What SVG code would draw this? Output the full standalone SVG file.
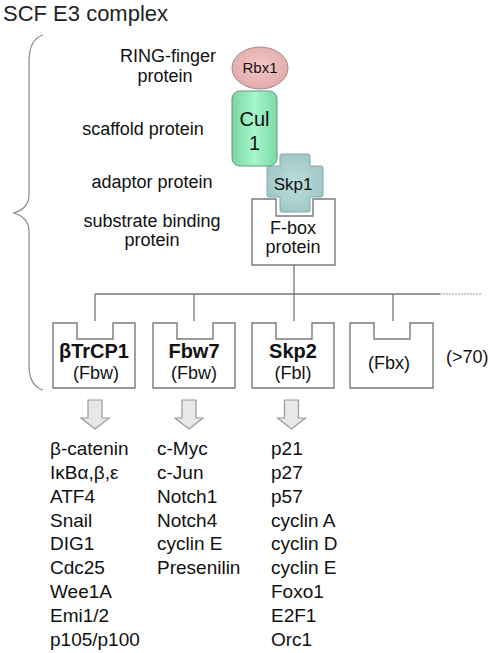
<svg xmlns="http://www.w3.org/2000/svg" width="490" height="653" viewBox="0 0 490 653">
<defs>
<radialGradient id="gRbx" cx="50%" cy="45%" r="60%">
<stop offset="0" stop-color="#f3c9c9"/><stop offset="1" stop-color="#e1a7a7"/>
</radialGradient>
<linearGradient id="gCul" x1="0" y1="0" x2="1" y2="0">
<stop offset="0" stop-color="#78d6a2"/><stop offset="0.5" stop-color="#a6f6cb"/><stop offset="1" stop-color="#7cd9a5"/>
</linearGradient>
<radialGradient id="gSkp" cx="50%" cy="50%" r="60%">
<stop offset="0" stop-color="#bcdcdc"/><stop offset="1" stop-color="#9ec4c4"/>
</radialGradient>
<style>
text{font-family:"Liberation Sans",Arial,sans-serif;fill:#111}
.lbl{font-size:18px;text-anchor:middle}
.big{font-size:18px;text-anchor:middle}
.bx{fill:#fff;stroke:#7a7a7a;stroke-width:1.4}
.nm{font-size:20px;font-weight:bold;text-anchor:middle}
.sub{font-size:18px;text-anchor:middle}
.ln{fill:none;stroke:#777;stroke-width:1.3}
.arr{fill:#e8e8e8;stroke:#9a9a9a;stroke-width:1.2}
.lst{font-size:19px}
</style>
</defs>
<rect width="490" height="653" fill="#fff"/>
<text x="3" y="21" font-size="22" style="fill:#222">SCF E3 complex</text>
<path id="brace" d="M43,35 C33,38 29,48 29,62 L29,195 C29,205 22,211 13,213 C22,215 29,221 29,231 L29,365 C29,378 33,387 43,390" fill="none" stroke="#8a8a8a" stroke-width="1.2"/>
<g id="labels">
<text class="lbl" x="168" y="62">RING-finger</text>
<text class="lbl" x="165" y="82">protein</text>
<text class="lbl" x="143" y="135">scaffold protein</text>
<text class="lbl" x="152" y="188">adaptor protein</text>
<text class="lbl" x="152" y="227">substrate binding</text>
<text class="lbl" x="152" y="246">protein</text>
</g>
<g id="rbx1">
<ellipse cx="260" cy="68" rx="28" ry="21" fill="url(#gRbx)" stroke="#a08c8c" stroke-width="1"/>
<text x="260" y="73" font-size="15" text-anchor="middle">Rbx1</text>
</g>
<g id="cul1">
<rect x="232" y="91" width="45" height="75" rx="8" fill="url(#gCul)" stroke="#5f9c7c" stroke-width="1"/>
<text x="254.5" y="126" font-size="20" text-anchor="middle">Cul</text>
<text x="254.5" y="150" font-size="20" text-anchor="middle">1</text>
</g>
<g id="fbox">
<path class="bx" d="M252,199 H276 V216 H313 V199 H335 V265 H252 Z"/>
<text class="big" x="293" y="234">F-box</text>
<text class="big" x="293" y="253">protein</text>
</g>
<g id="skp1">
<path d="M282,154 H308 Q310,154 310,156 V166 H321 Q323,166 323,168 V195 Q323,197 321,197 H310 V210 Q310,212 308,212 H282 Q280,212 280,210 V197 H269 Q267,197 267,195 V168 Q267,166 269,166 H280 V156 Q280,154 282,154 Z" fill="url(#gSkp)" stroke="#86a8a8" stroke-width="1"/>
<text x="293" y="190" font-size="17" text-anchor="middle">Skp1</text>
</g>
<g id="connectors">
<path class="ln" d="M294,265 V294 M95,294 H440 M95,294 V321 M194,294 V321 M294,294 V321 M393,294 V321"/>
<path d="M440,294 H481" fill="none" stroke="#bbb" stroke-width="1.3" stroke-dasharray="2,1"/>
<path class="arr" d="M88,400 H102 V418 H109 L95,429 L81,418 H88 Z"/>
<path class="arr" d="M182,400 H196 V418 H203 L189,429 L175,418 H182 Z"/>
<path class="arr" d="M284.5,400 H298.5 V418 H305.5 L291.5,429 L277.5,418 H284.5 Z"/>
</g>
<g id="btrcp1">
<path class="bx" d="M53,323 H77 V339 H113 V323 H135 V388 H53 Z"/>
<text class="nm" x="94" y="358">βTrCP1</text>
<text class="sub" x="96" y="379">(Fbw)</text>
</g>
<g id="fbw7">
<path class="bx" d="M153,323 H177 V339 H213 V323 H235 V388 H153 Z"/>
<text class="nm" x="194" y="358">Fbw7</text>
<text class="sub" x="194" y="379">(Fbw)</text>
</g>
<g id="skp2">
<path class="bx" d="M252,323 H276 V339 H312 V323 H334 V388 H252 Z"/>
<text class="nm" x="293" y="358">Skp2</text>
<text class="sub" x="293" y="379">(Fbl)</text>
</g>
<g id="fbx">
<path class="bx" d="M350,323 H374 V339 H410 V323 H433 V388 H350 Z"/>
<text class="sub" x="389" y="369">(Fbx)</text>
</g>
<text x="446" y="363" font-size="18">(&gt;70)</text>
<g id="list1" class="lst">
<text x="50" y="455">β-catenin</text>
<text x="50" y="479">IκBα,β,ε</text>
<text x="50" y="503">ATF4</text>
<text x="50" y="527">Snail</text>
<text x="50" y="550">DIG1</text>
<text x="50" y="574">Cdc25</text>
<text x="50" y="598">Wee1A</text>
<text x="50" y="622">Emi1/2</text>
<text x="50" y="646">p105/p100</text>
</g>
<g id="list2" class="lst">
<text x="157" y="455">c-Myc</text>
<text x="157" y="479">c-Jun</text>
<text x="157" y="503">Notch1</text>
<text x="157" y="527">Notch4</text>
<text x="157" y="550">cyclin E</text>
<text x="157" y="574">Presenilin</text>
</g>
<g id="list3" class="lst">
<text x="271" y="455">p21</text>
<text x="271" y="479">p27</text>
<text x="271" y="503">p57</text>
<text x="271" y="527">cyclin A</text>
<text x="271" y="550">cyclin D</text>
<text x="271" y="574">cyclin E</text>
<text x="271" y="598">Foxo1</text>
<text x="271" y="622">E2F1</text>
<text x="271" y="646">Orc1</text>
</g>
</svg>
